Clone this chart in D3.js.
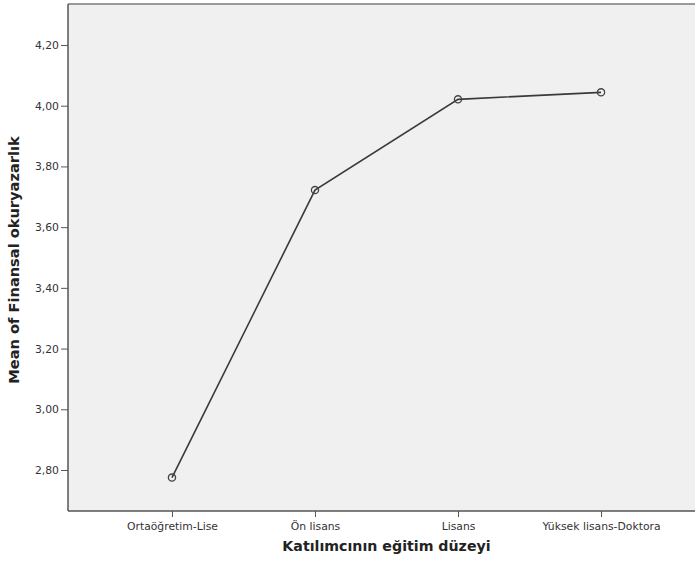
<!DOCTYPE html>
<html><head><meta charset="utf-8">
<script src="https://cdn.jsdelivr.net/npm/d3@7"></script>
<style>body{margin:0;background:#fff;}svg{display:block;}</style>
</head><body>
<svg id="c" width="695" height="569"></svg>
<script>
const categories = ["Ortaöğretim-Lise", "Ön lisans", "Lisans", "Yüksek lisans-Doktora"];
const means = [2.775, 3.722, 4.021, 4.044];
const yTicks = [2.8, 3.0, 3.2, 3.4, 3.6, 3.8, 4.0, 4.2];
const xTitle = "Katılımcının eğitim düzeyi";
const yTitle = "Mean of Finansal okuryazarlık";

const svg = d3.select("#c");
const L = 68, R = 705, T = 4, B = 511;
const x = d3.scalePoint().domain(categories).range([L, R]).padding(0.727);
const y = d3.scaleLinear().domain([2.665, 4.335]).range([B, T]);
const tickFont = "DejaVu Sans, Verdana, sans-serif";

svg.append("rect").attr("x", L).attr("y", T).attr("width", R - L).attr("height", B - T)
  .attr("fill", "#f0f0f0");
svg.append("line").attr("x1", L).attr("x2", R).attr("y1", T).attr("y2", T)
  .attr("stroke", "#9a9a9a").attr("stroke-width", 2);

const fmt = d => d.toFixed(2).replace(".", ",");
const yAxis = svg.append("g").attr("transform", `translate(${L},0)`)
  .call(d3.axisLeft(y).tickValues(yTicks).tickFormat(fmt).tickSize(7).tickPadding(2));
const xAxis = svg.append("g").attr("transform", `translate(0,${B})`)
  .call(d3.axisBottom(x).tickSize(6).tickPadding(5));
[yAxis, xAxis].forEach(g => {
  g.select(".domain").attr("stroke", "#555").attr("stroke-width", 1.5);
  g.selectAll(".tick line").attr("stroke", "#555");
  g.selectAll(".tick text").attr("fill", "#333").attr("font-family", tickFont).attr("font-size", 10.8);
});
yAxis.select(".domain").attr("d", `M0,${T}V${B}`);
xAxis.select(".domain").attr("d", `M${L},0H${R}`);

const line = d3.line().x((d, i) => x(categories[i])).y(d => y(d));
svg.append("path").datum(means).attr("d", line).attr("fill", "none")
  .attr("stroke", "#3a3a3a").attr("stroke-width", 1.6);
svg.selectAll("circle.pt").data(means).join("circle").attr("class", "pt")
  .attr("cx", (d, i) => x(categories[i])).attr("cy", d => y(d)).attr("r", 3.6)
  .attr("fill", "none").attr("stroke", "#444").attr("stroke-width", 1.3);

svg.append("text").attr("x", (L + R) / 2).attr("y", 551).attr("text-anchor", "middle")
  .attr("font-family", tickFont).attr("font-weight", "bold")
  .attr("font-size", 14.2).attr("fill", "#222").text(xTitle);
svg.append("text").attr("transform", `translate(19,260) rotate(-90)`).attr("text-anchor", "middle")
  .attr("font-family", tickFont).attr("font-weight", "bold")
  .attr("font-size", 14.6).attr("fill", "#222").text(yTitle);
</script>
</body></html>
